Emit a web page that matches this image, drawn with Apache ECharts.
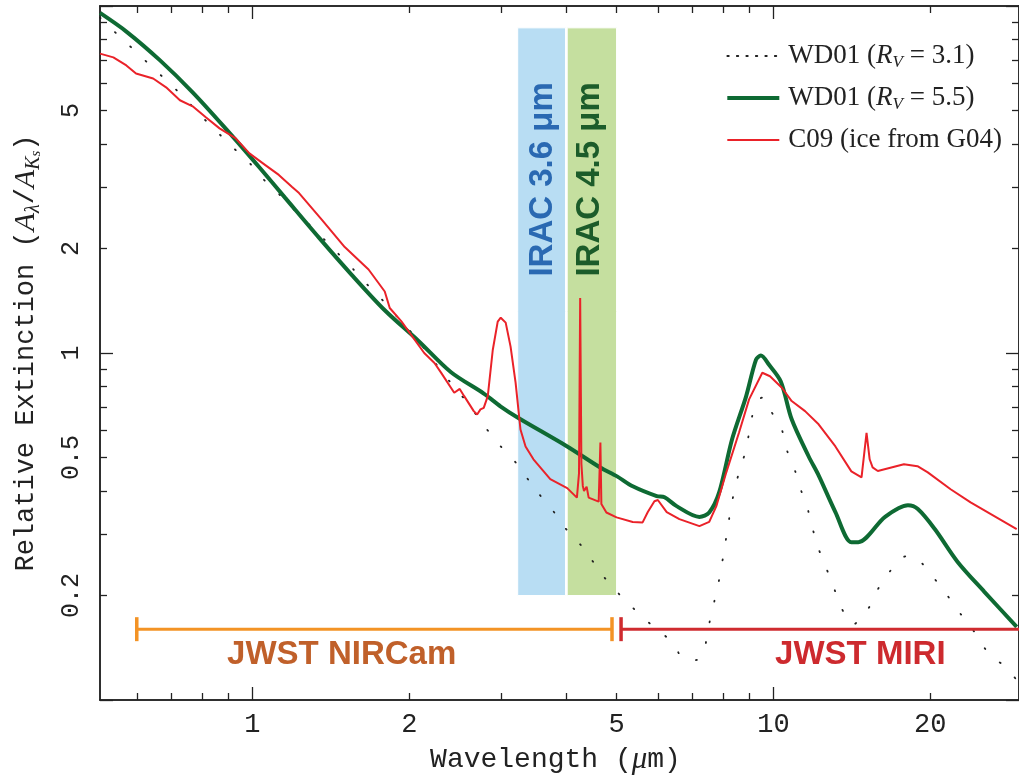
<!DOCTYPE html>
<html>
<head>
<meta charset="utf-8">
<title>Relative extinction curves</title>
<script src="https://cdn.jsdelivr.net/npm/echarts@6/dist/echarts.min.js"></script>
<style>
  html, body { margin: 0; padding: 0; background: #fff; }
  #main { width: 1019px; height: 780px; }
</style>
</head>
<body>
<div id="main"></div>
<script>
// ---- data (wavelength in um, extinction relative to Ks) ----
var wd31Wave = [0.51, 0.529, 0.570, 0.609, 0.653, 0.704, 0.752, 0.803, 0.858, 0.916, 0.987, 1.045, 1.116, 1.156, 1.284, 1.420, 1.564, 1.671, 1.785, 1.906, 2.036, 2.283, 2.427, 2.604, 2.744, 2.997, 3.20, 3.49, 3.82, 4.04, 4.30, 4.71, 5.01, 5.35, 5.74, 5.97, 6.46, 6.63, 6.90, 7.18, 7.40, 7.53, 7.70, 7.87, 8.05, 8.22, 8.40, 8.59, 8.86, 9.10, 9.34, 9.55, 9.75, 9.93, 10.33, 10.60, 11.03, 11.33, 11.68, 12.10, 12.59, 13.04, 13.45, 13.80, 14.23, 14.68, 15.20, 15.88, 16.74, 17.73, 18.52, 19.18, 20.40, 21.60, 22.87, 24.31, 26.09, 27.73, 29.6];
var wd31Ext = [9.26, 8.77, 7.89, 7.19, 6.51, 5.86, 5.30, 4.77, 4.32, 3.92, 3.53, 3.19, 2.91, 2.74, 2.35, 2.02, 1.74, 1.56, 1.41, 1.26, 1.13, 0.905, 0.805, 0.711, 0.635, 0.538, 0.484, 0.405, 0.343, 0.305, 0.276, 0.228, 0.205, 0.1855, 0.168, 0.1604, 0.1442, 0.134, 0.130, 0.131, 0.1442, 0.166, 0.192, 0.223, 0.272, 0.332, 0.397, 0.453, 0.528, 0.656, 0.73, 0.745, 0.725, 0.674, 0.615, 0.528, 0.453, 0.397, 0.348, 0.283, 0.243, 0.212, 0.187, 0.1737, 0.1647, 0.1725, 0.183, 0.209, 0.235, 0.258, 0.260, 0.250, 0.223, 0.1995, 0.177, 0.157, 0.134, 0.1256, 0.112];

var wd55Wave = [0.51, 0.573, 0.665, 0.768, 0.888, 1.031, 1.156, 1.342, 1.551, 1.793, 2.081, 2.406, 2.781, 2.997, 3.228, 4.02, 4.65, 5.01, 5.37, 5.97, 6.18, 6.52, 7.21, 7.53, 7.87, 8.33, 8.86, 9.26, 9.46, 9.80, 10.33, 10.84, 11.68, 12.21, 13.15, 14.11, 14.55, 16.38, 18.12, 18.93, 20.40, 22.57, 25.40, 29.3];
var wd55Ext = [9.55, 8.44, 6.97, 5.64, 4.44, 3.43, 2.80, 2.15, 1.68, 1.33, 1.085, 0.880, 0.764, 0.701, 0.652, 0.538, 0.468, 0.441, 0.413, 0.387, 0.384, 0.362, 0.337, 0.347, 0.397, 0.564, 0.749, 0.957, 0.983, 0.926, 0.828, 0.644, 0.504, 0.444, 0.348, 0.285, 0.285, 0.337, 0.364, 0.355, 0.311, 0.250, 0.205, 0.1625];

var c09Wave = [0.51, 0.541, 0.573, 0.598, 0.645, 0.683, 0.726, 0.768, 0.814, 0.865, 0.928, 0.987, 1.059, 1.124, 1.192, 1.229, 1.360, 1.504, 1.671, 1.795, 1.835, 1.932, 2.137, 2.236, 2.302, 2.44, 2.50, 2.55, 2.66, 2.70, 2.74, 2.78, 2.83, 2.893, 2.957, 2.997, 3.063, 3.130, 3.20, 3.27, 3.344, 3.463, 3.73, 4.02, 4.196, 4.235, 4.257, 4.28, 4.307, 4.33, 4.38, 4.42, 4.62, 4.655, 4.675, 4.78, 5.0, 5.37, 5.61, 5.74, 5.91, 6.0, 6.24, 6.60, 7.21, 7.53, 7.77, 8.12, 8.59, 8.98, 9.52, 9.85, 10.38, 10.84, 11.5, 12.21, 13.15, 14.11, 14.76, 15.09, 15.3, 15.5, 15.86, 17.8, 18.9, 19.78, 21.88, 23.9, 29.3];
var c09Ext = [7.29, 7.11, 6.74, 6.39, 6.18, 5.83, 5.35, 5.14, 4.78, 4.44, 4.16, 3.76, 3.48, 3.26, 3.01, 2.89, 2.42, 2.02, 1.74, 1.504, 1.348, 1.233, 1.00, 0.936, 0.878, 0.768, 0.788, 0.751, 0.68, 0.665, 0.688, 0.695, 0.751, 1.02, 1.231, 1.264, 1.223, 1.043, 0.822, 0.602, 0.538, 0.494, 0.433, 0.408, 0.383, 0.45, 1.44, 0.48, 0.414, 0.40, 0.412, 0.383, 0.373, 0.552, 0.367, 0.347, 0.336, 0.326, 0.325, 0.348, 0.374, 0.377, 0.348, 0.332, 0.317, 0.326, 0.362, 0.453, 0.590, 0.735, 0.877, 0.857, 0.794, 0.727, 0.68, 0.623, 0.538, 0.456, 0.438, 0.589, 0.494, 0.468, 0.457, 0.478, 0.472, 0.453, 0.405, 0.371, 0.311];

var seriesNames = ['WD01 3.1', 'WD01 5.5', 'C09'];
var legendText = ['WD01 ({r|R}{v|V} = 3.1)', 'WD01 ({r|R}{v|V} = 5.5)', 'C09 (ice from G04)'];

// IRAC filter bands (um) and JWST instrument coverage (um)
var iracNames = ['IRAC 3.6 μm', 'IRAC 4.5 μm'];
var iracRanges = [[3.23, 3.99], [4.02, 5.0]];
var iracExtent = [0.2, 8.65];
var jwstNames = ['JWST NIRCam', 'JWST MIRI'];
var jwstRanges = [[0.6, 4.9], [5.1, 29.6]];
var jwstLevel = 0.16;

// axis ticks
var xRange = [0.51, 29.6];
var yRange = [0.1, 10];
var xLabels = [1, 2, 5, 10, 20];
var xMajor = [1, 10];
var xMinor = [0.6, 0.7, 0.8, 0.9, 2, 3, 4, 5, 6, 7, 8, 9, 20];
var yLabels = [0.2, 0.5, 1, 2, 5];
var yMajor = [0.1, 1, 10];
var yMinor = [0.2, 0.3, 0.4, 0.5, 0.6, 0.7, 0.8, 0.9, 2, 3, 4, 5, 6, 7, 8, 9];

// ---- chart ----
var MONO = '"Liberation Mono", "DejaVu Sans Mono", monospace';
var SERIF = '"Liberation Serif", "DejaVu Serif", serif';
var SANS = '"Liberation Sans", Arial, sans-serif';
var INK = '#222';
var GREEN = '#0e6a33';
var RED = '#ea2229';

function zip(xs, ys) {
  return xs.map(function (x, i) { return [x, ys[i]]; });
}
function fmt(v) {
  return String(Math.round(v * 100) / 100);
}

function makeAxis(dim, position, ticks, len, labels) {
  var range = dim === 'x' ? xRange : yRange;
  var ax = {
    type: 'log',
    logBase: 10,
    min: range[0],
    max: range[1],
    position: position,
    axisLine: { show: true, lineStyle: { color: INK, width: 1.5 } },
    axisTick: { show: true, inside: true, length: len, customValues: ticks, lineStyle: { color: INK, width: 1.3 } },
    axisLabel: { show: false },
    splitLine: { show: false },
    minorTick: { show: false }
  };
  if (labels) {
    ax.axisLabel = {
      show: true,
      customValues: labels,
      formatter: fmt,
      fontFamily: MONO,
      color: INK,
      fontSize: dim === 'x' ? 27 : 25,
      margin: dim === 'x' ? 11 : 16,
      rotate: dim === 'x' ? 0 : 90
    };
  }
  return ax;
}

var xAxes = [
  makeAxis('x', 'bottom', xMajor, 13, xLabels),
  makeAxis('x', 'bottom', xMinor, 7),
  makeAxis('x', 'top', xMajor, 13),
  makeAxis('x', 'top', xMinor, 7)
];
xAxes[0].name = 'Wavelength ({mu|μ}m)';
xAxes[0].nameLocation = 'middle';
xAxes[0].nameGap = 44;
xAxes[0].nameTextStyle = {
  fontFamily: MONO, fontSize: 28, color: INK, padding: [0, 8, 0, 0],
  rich: { mu: { fontFamily: SERIF, fontStyle: 'italic', fontSize: 31, color: INK } }
};

var yAxes = [
  makeAxis('y', 'left', yMajor, 13, yLabels),
  makeAxis('y', 'left', yMinor, 7),
  makeAxis('y', 'right', yMajor, 13),
  makeAxis('y', 'right', yMinor, 7)
];
yAxes[0].name = 'Relative Extinction ({a|A}{s1|λ}/{a|A}{s1|K}{s2|s})';
yAxes[0].nameLocation = 'middle';
yAxes[0].nameRotate = 90;
yAxes[0].nameGap = 56;
yAxes[0].nameTextStyle = {
  fontFamily: MONO, fontSize: 27, color: INK, lineHeight: 36,
  rich: {
    a: { fontFamily: SERIF, fontStyle: 'italic', fontSize: 30, color: INK, lineHeight: 36 },
    s1: { fontFamily: SERIF, fontStyle: 'italic', fontSize: 20, color: INK, lineHeight: 22, verticalAlign: 'bottom' },
    s2: { fontFamily: SERIF, fontStyle: 'italic', fontSize: 15, color: INK, lineHeight: 12, verticalAlign: 'bottom' }
  }
};

var bandColors = ['#b8ddf3', '#c5df9f'];
var bandTextColors = ['#2a69b2', '#1c5c2a'];
var jwstColors = ['#f39325', '#cf2b2f'];
var jwstTextColors = ['#c0602a', '#cd2a2e'];

var option = {
  animation: false,
  backgroundColor: '#fff',
  grid: { left: 96, right: -3, top: 6, bottom: 78, containLabel: false },
  xAxis: xAxes,
  yAxis: yAxes,
  legend: {
    orient: 'vertical',
    right: 12,
    top: 36,
    itemWidth: 52,
    itemHeight: 14,
    itemGap: 12,
    itemStyle: { opacity: 0 },
    textStyle: {
      fontFamily: SERIF, fontSize: 27, color: INK, lineHeight: 30, padding: [0, 0, 0, 4],
      rich: {
        r: { fontFamily: SERIF, fontStyle: 'italic', fontSize: 27, color: INK, lineHeight: 30 },
        v: { fontFamily: SERIF, fontStyle: 'italic', fontSize: 17, color: INK, lineHeight: 20, verticalAlign: 'bottom' }
      }
    },
    formatter: function (name) {
      return legendText[seriesNames.indexOf(name)];
    },
    data: [
      { name: seriesNames[0], lineStyle: { color: INK, type: [1.5, 8], width: 1.8, cap: 'round' } },
      { name: seriesNames[1], lineStyle: { color: GREEN, width: 4 } },
      { name: seriesNames[2], lineStyle: { color: RED, width: 2 } }
    ]
  },
  series: [
    {
      name: 'bands',
      type: 'line',
      data: [],
      z: 1,
      silent: true,
      markArea: {
        silent: true,
        data: iracRanges.map(function (r, i) {
          return [
            { xAxis: r[0], yAxis: iracExtent[0], itemStyle: { color: bandColors[i], borderColor: '#fff', borderWidth: 1 } },
            { xAxis: r[1], yAxis: iracExtent[1] }
          ];
        })
      }
    },
    {
      name: 'band labels',
      type: 'scatter',
      symbolSize: 0,
      z: 3,
      silent: true,
      data: [[3.61, 1.66], [4.44, 1.66]].map(function (d, i) {
        return { value: d, label: { color: bandTextColors[i] } };
      }),
      label: {
        show: true,
        position: 'inside',
        rotate: 90,
        align: 'left',
        verticalAlign: 'middle',
        fontFamily: SANS,
        fontWeight: 'bold',
        fontSize: 33,
        opacity: 1,
        textBorderWidth: 0,
        formatter: function (p) { return iracNames[p.dataIndex]; }
      },
      itemStyle: { color: 'transparent', opacity: 1 }
    },
    {
      name: seriesNames[0],
      type: 'line',
      z: 4,
      symbol: 'none',
      smooth: 0.3,
      data: zip(wd31Wave, wd31Ext),
      lineStyle: { color: INK, width: 1.8, type: [1, 20], cap: 'round' },
      itemStyle: { color: INK }
    },
    {
      name: seriesNames[1],
      type: 'line',
      z: 5,
      symbol: 'none',
      smooth: 0.3,
      data: zip(wd55Wave, wd55Ext),
      lineStyle: { color: GREEN, width: 4 },
      itemStyle: { color: GREEN }
    },
    {
      name: seriesNames[2],
      type: 'line',
      z: 6,
      symbol: 'none',
      data: zip(c09Wave, c09Ext),
      lineStyle: { color: RED, width: 2 },
      itemStyle: { color: RED }
    }
  ]
};

// JWST coverage bars with end caps
jwstRanges.forEach(function (r, i) {
  option.series.push({
    name: jwstNames[i],
    type: 'line',
    z: 7,
    silent: true,
    symbol: 'rect',
    symbolSize: [3.5, 24],
    data: [
      { value: [r[0], jwstLevel] },
      { value: [r[1], jwstLevel], symbol: i === 1 ? 'none' : 'rect' }
    ],
    lineStyle: { color: jwstColors[i], width: 3 },
    itemStyle: { color: jwstColors[i] }
  });
});
option.series.push({
  name: 'jwst labels',
  type: 'scatter',
  symbolSize: 0,
  z: 7,
  silent: true,
  data: [[1.484, 0.135], [14.68, 0.135]].map(function (d, i) {
    return { value: d, label: { color: jwstTextColors[i] } };
  }),
  label: {
    show: true,
    position: 'inside',
    fontFamily: SANS,
    fontWeight: 'bold',
    fontSize: 33,
    opacity: 1,
    textBorderWidth: 0,
    formatter: function (p) { return jwstNames[p.dataIndex]; }
  },
  itemStyle: { color: 'transparent', opacity: 1 }
});

var chart = echarts.init(document.getElementById('main'));
chart.setOption(option);
</script>
</body>
</html>
